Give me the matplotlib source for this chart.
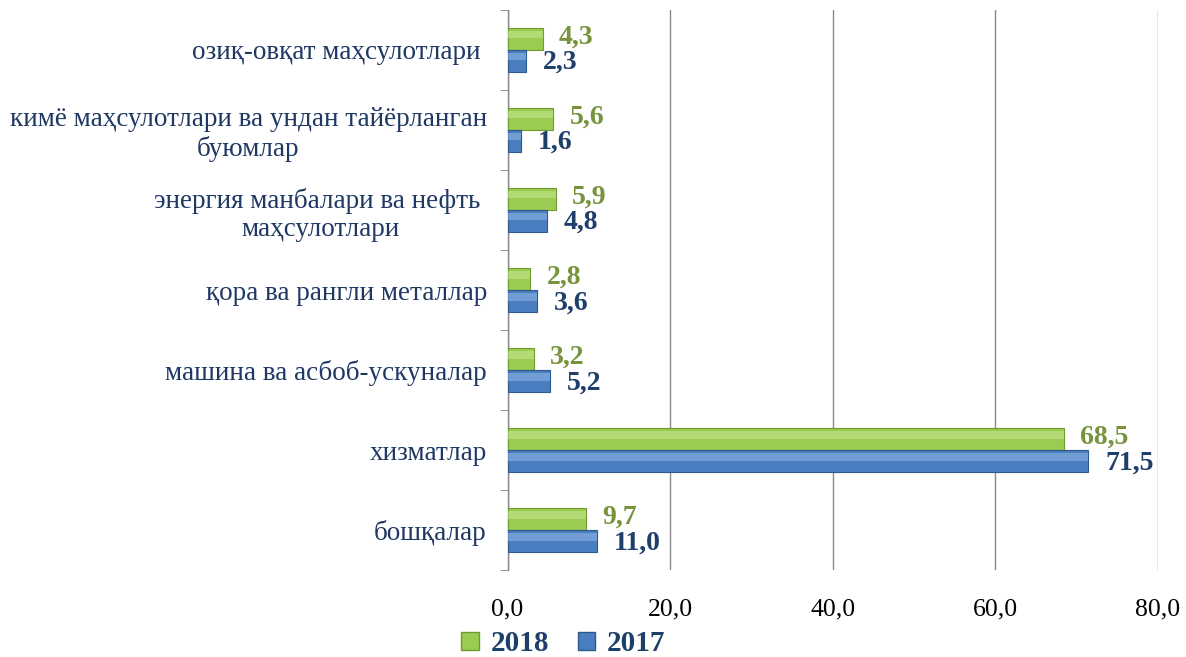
import matplotlib
matplotlib.use('agg')
import matplotlib.pyplot as plt
import numpy as np

# категориялар (юқоридан пастга)
categories = ["озиқ-овқат маҳсулотлари ",
              "кимё маҳсулотлари ва ундан тайёрланган\nбуюмлар",
              "энергия манбалари ва нефть \nмаҳсулотлари",
              "қора ва рангли металлар",
              "машина ва асбоб-ускуналар",
              "хизматлар",
              "бошқалар"]
v2018 = [4.3, 5.6, 5.9, 2.8, 3.2, 68.5, 9.7]
v2017 = [2.3, 1.6, 4.8, 3.6, 5.2, 71.5, 11.0]
xticks = [0, 20, 40, 60, 80]

plt.rcParams['font.family'] = ['Liberation Serif', 'DejaVu Serif']

green = '#9BCB50'
green_dk = '#6E9A2E'
green_lt = '#C6E58E'
blue = '#4A7EC0'
blue_dk = '#2C5A8F'
blue_lt = '#8DB4E6'
lab_green = '#77933C'
lab_blue = '#1F3F6B'

fig = plt.figure(figsize=(11.86, 6.57), dpi=100)
ax = fig.add_axes([0.428, 0.132, 0.548, 0.853])

n = len(categories)
y = np.arange(n)[::-1].astype(float)
h = 0.275

ax.barh(y + h / 2, v2018, height=h, color=green, edgecolor=green_dk, linewidth=0.8, zorder=3)
ax.barh(y - h / 2, v2017, height=h, color=blue, edgecolor=blue_dk, linewidth=0.8, zorder=3)
# светлая полоса для эффекта объема
ax.barh(y + h / 2 + h * 0.2, v2018, height=h * 0.35, color=green_lt, linewidth=0, zorder=4, alpha=0.6)
ax.barh(y - h / 2 + h * 0.2, v2017, height=h * 0.35, color=blue_lt, linewidth=0, zorder=4, alpha=0.6)

for yi, a, b in zip(y, v2018, v2017):
    ax.text(a + 2.0, yi + h / 2 + 0.02, f"{a:.1f}".replace('.', ','), color=lab_green,
            fontsize=20, fontweight='bold', va='center', ha='left', zorder=5)
    ax.text(b + 2.1, yi - h / 2 - 0.02, f"{b:.1f}".replace('.', ','), color=lab_blue,
            fontsize=20, fontweight='bold', va='center', ha='left', zorder=5)

ax.set_xlim(0, 80)
ax.set_ylim(-0.5, n - 0.5)
ax.set_xticks(xticks)
ax.set_xticklabels([f"{t:.1f}".replace('.', ',') for t in xticks], fontsize=18.5)
ax.tick_params(axis='x', length=0, pad=20)
ax.set_yticks(y)
ax.set_yticklabels(categories, fontsize=19.5, color='#1F3864', multialignment='center')
ax.tick_params(axis='y', which='major', length=0, pad=15)
ax.set_yticks(np.arange(-0.5, n), minor=True)
ax.tick_params(axis='y', which='minor', length=6, color='#888888', direction='out')

ax.grid(axis='x', color='#888888', linewidth=1.0, zorder=0)
for s in ['top', 'right', 'bottom']:
    ax.spines[s].set_visible(False)
ax.spines['left'].set_color('#888888')
ax.spines['left'].set_linewidth(1.0)

h1 = plt.Rectangle((0, 0), 1, 1, facecolor=green, edgecolor=green_dk)
h2 = plt.Rectangle((0, 0), 1, 1, facecolor=blue, edgecolor=blue_dk)
leg = fig.legend([h1, h2], ['2018', '2017'], loc='center', bbox_to_anchor=(0.475, 0.02),
                 ncol=2, frameon=False, handlelength=0.6, handleheight=0.6,
                 columnspacing=1.0, handletextpad=0.4,
                 prop={'size': 21, 'weight': 'bold'})
for t in leg.get_texts():
    t.set_color(lab_blue)

fig.savefig('out.png', dpi=100)
